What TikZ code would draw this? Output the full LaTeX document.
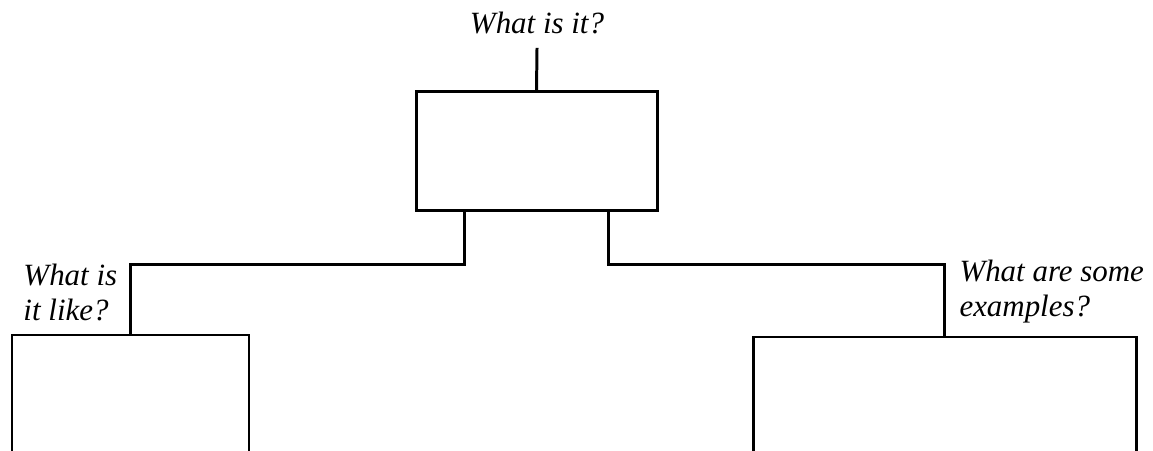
\documentclass[tikz,border=0pt]{standalone}
\usepackage{fontspec}
\setmainfont{Liberation Serif}
\usetikzlibrary{positioning}

\begin{document}
\begin{tikzpicture}[
  line width=0.85pt,
  qbox/.style={draw, line width=0.85pt, inner sep=0pt},
  qtext/.style={font=\fontsize{8.8}{10.1}\selectfont\itshape, inner sep=0pt, align=left}
]
  \useasboundingbox (0,0) rectangle (11.53,4.51);
  \clip (0,0) rectangle (11.53,4.51);

  \node[qbox, minimum width=2.41cm, minimum height=1.19cm] (itbox) at (5.365,2.995) {};
  \node[qbox, minimum width=2.37cm, minimum height=1.66cm] (likebox) at (1.305,0.33) {};
  \node[qbox, minimum width=3.83cm, minimum height=1.64cm] (exbox) at (9.445,0.32) {};

  \node[qtext, anchor=base, inner ysep=0.12cm] (qit) at (5.37,4.17) {What is it?};
  \node[qtext, anchor=base west] (qlike) at (0.22,1.30) {What is\\it like?};
  \node[qtext, anchor=base west] (qex) at (9.58,1.34) {What are some\\examples?};

  \draw (itbox.north) -- (qit.south);
  \draw ([xshift=0.5cm]itbox.south west) -- ++(0,-0.52) -| (likebox.north);
  \draw ([xshift=-0.5cm]itbox.south east) -- ++(0,-0.52) -| (exbox.north);
\end{tikzpicture}
\end{document}
